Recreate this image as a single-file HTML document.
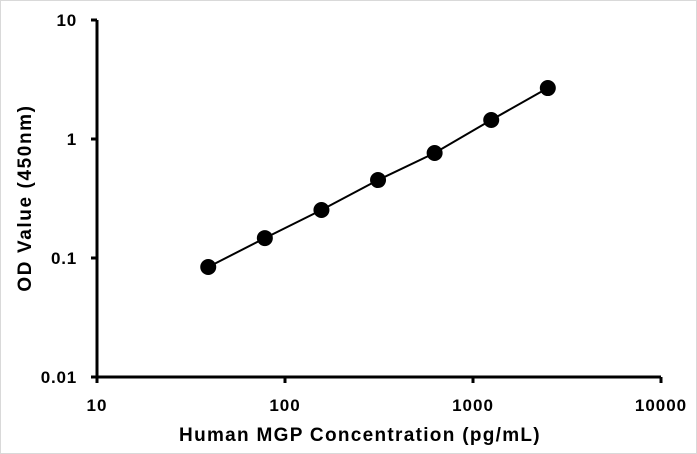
<!DOCTYPE html>
<html><head><meta charset="utf-8"><style>
html,body{margin:0;padding:0;background:#fff;}
svg{display:block;font-family:"Liberation Sans",sans-serif;font-weight:bold;}
</style></head><body>
<svg id="chart" width="697" height="454">
<rect x="0.5" y="0.5" width="696" height="453" fill="#fff" stroke="#d9d9d9"/>
<g id="axes"></g>
<g id="series"></g>
<text x="360" y="441" text-anchor="middle" font-size="19" letter-spacing="1.3">Human MGP Concentration (pg/mL)</text>
<text transform="translate(31,198) rotate(-90)" text-anchor="middle" font-size="19" letter-spacing="1.6">OD Value (450nm)</text>
</svg>
<script>
const xTicks = [10, 100, 1000, 10000];
const xTickLabels = ["10", "100", "1000", "10000"];
const yTicks = [0.01, 0.1, 1, 10];
const yTickLabels = ["0.01", "0.1", "1", "10"];
const concentrations = [39.06, 78.125, 156.25, 312.5, 625, 1250, 2500];
const odValues = [0.084, 0.147, 0.253, 0.452, 0.763, 1.445, 2.68];

const X0 = 97, X1 = 661, Y0 = 377, Y1 = 20;
function xs(v){ return X0 + (Math.log10(v) - 1) / 3 * (X1 - X0); }
function ys(v){ return Y0 - (Math.log10(v) + 2) / 3 * (Y0 - Y1); }
const NS = "http://www.w3.org/2000/svg";
function mk(tag, attrs, parent){ const e = document.createElementNS(NS, tag); for (const k in attrs) e.setAttribute(k, attrs[k]); parent.appendChild(e); return e; }
const axes = document.getElementById('axes');
const series = document.getElementById('series');

let e = mk('line', {x1: X0, y1: Y1, x2: X0, y2: Y0 + 1.5, stroke: '#000', 'stroke-width': 3}, axes);


e = mk('line', {x1: X0 - 1.5, y1: Y0, x2: X1, y2: Y0, stroke: '#000', 'stroke-width': 3}, axes);



yTicks.forEach((t, i) => {
  const y = ys(t);
  let l = mk('line', {x1: X0 - 6, y1: y, x2: X0, y2: y, stroke: '#000', 'stroke-width': 3}, axes);
  
  
  let tx = mk('text', {x: X0 - 20, y: y + 6, 'text-anchor': 'end', 'font-size': 17, 'letter-spacing': 0.8}, axes);
  tx.textContent = yTickLabels[i];
  
  
});
xTicks.forEach((t, i) => {
  const x = xs(t);
  let l = mk('line', {x1: x, y1: Y0, x2: x, y2: Y0 + 6, stroke: '#000', 'stroke-width': 3}, axes);
  
  
  let tx = mk('text', {x: x, y: Y0 + 34, 'text-anchor': 'middle', 'font-size': 17, 'letter-spacing': 1}, axes);
  tx.textContent = xTickLabels[i];
  
  
});

const pts = concentrations.map((c, i) => xs(c) + ',' + ys(odValues[i])).join(' ');
let pl = mk('polyline', {points: pts, fill: 'none', stroke: '#000', 'stroke-width': 2}, series);


concentrations.forEach((c, i) => {
  let p = mk('circle', {cx: xs(c), cy: ys(odValues[i]), r: 8, fill: '#000'}, series);
  
  
});
</script>
</body></html>
